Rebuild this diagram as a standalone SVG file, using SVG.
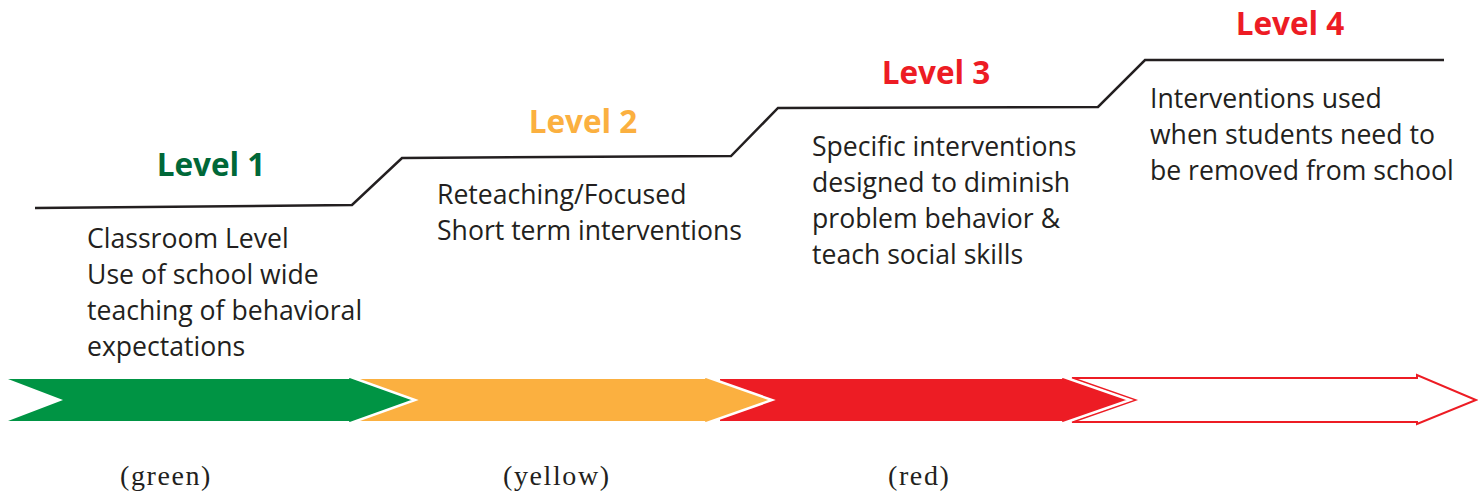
<svg xmlns="http://www.w3.org/2000/svg" width="1478" height="493" viewBox="0 0 1478 493">
<style>
.lvl{font-family:"Open Sans","Liberation Sans",sans-serif;font-weight:bold;font-size:31.5px;text-anchor:middle}
.body{font-family:"Open Sans","Liberation Sans",sans-serif;font-size:26.6px;fill:#231f20}
.cap{font-family:"Liberation Serif",serif;font-size:28px;letter-spacing:1.6px;fill:#231f20}
.edge{fill:none;stroke:#fff;stroke-width:2.5;stroke-linejoin:miter}
</style>
<rect width="1478" height="493" fill="#fff"/>
<g id="connectors">
<polyline points="35,208 352,205 402,158 731,156 778,108 1098,107 1145,60 1444,60" fill="none" stroke="#231f20" stroke-width="2.5"/>
</g>
<g id="arrow4">
<polygon points="1072,378 1417,378 1417,375 1476,400 1417,424 1417,422 1072,422 1135,400" fill="#fff" stroke="#ed1c24" stroke-width="2"/>
</g>
<g id="arrow3">
<polygon points="720,379 1061,379 1061,376 1130,400 1061,424 1061,421 720,421" fill="#ed1c24"/>
<polyline class="edge" points="1061,379 1061,376 1130,400 1061,424 1061,421"/>
</g>
<g id="arrow2">
<polygon points="360,379 704,379 704,376 772,400 704,424 704,421 360,421" fill="#fbb040"/>
<polyline class="edge" points="704,379 704,376 772,400 704,424 704,421"/>
</g>
<g id="arrow1">
<polygon points="8,379 348,379 348,376 415,400 348,424 348,421 8,421 63,400" fill="#009444"/>
<polyline class="edge" points="348,379 348,376 415,400 348,424 348,421"/>
</g>
<g id="level1">
<text class="lvl" x="211" y="176" fill="#006838">Level 1</text>
<text class="body" x="87" y="248">Classroom Level</text>
<text class="body" x="87" y="284">Use of school wide</text>
<text class="body" x="87" y="320">teaching of behavioral</text>
<text class="body" x="87" y="356">expectations</text>
<text class="cap" x="120" y="485">(green)</text>
</g>
<g id="level2">
<text class="lvl" x="583" y="133" fill="#fbb040">Level 2</text>
<text class="body" x="437" y="204">Reteaching/Focused</text>
<text class="body" x="437" y="240">Short term interventions</text>
<text class="cap" x="503" y="485">(yellow)</text>
</g>
<g id="level3">
<text class="lvl" x="936" y="84" fill="#ed1c24">Level 3</text>
<text class="body" x="812" y="156">Specific interventions</text>
<text class="body" x="812" y="192">designed to diminish</text>
<text class="body" x="812" y="228">problem behavior &amp;</text>
<text class="body" x="812" y="264">teach social skills</text>
<text class="cap" x="888" y="485">(red)</text>
</g>
<g id="level4">
<text class="lvl" x="1290" y="35" fill="#ed1c24">Level 4</text>
<text class="body" x="1150" y="108">Interventions used</text>
<text class="body" x="1150" y="144">when students need to</text>
<text class="body" x="1150" y="180">be removed from school</text>
</g>
</svg>
